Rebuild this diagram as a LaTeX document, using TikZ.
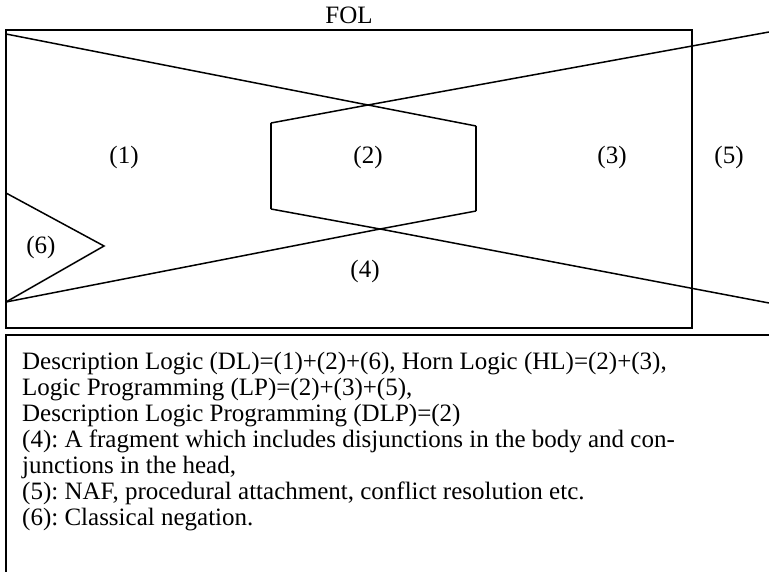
\documentclass[tikz,border=0pt]{standalone}
\usepackage{fontspec}
\setmainfont{Liberation Serif}
\frenchspacing
\begin{document}
\begin{tikzpicture}[x=1pt, y=-1pt]
\tikzset{
  region/.style={font=\fontsize{25}{26}\selectfont, inner sep=0pt},
  frame/.style={black, line width=2pt},
  edge/.style={black, line width=1.5pt}
}
\useasboundingbox (0,0) rectangle (769,572);
\clip (0,0) rectangle (769,572);

% corners of the two crossing bands
\coordinate (tl) at (6,34);
\coordinate (bl) at (6,302);
\coordinate (ru) at (769,32);
\coordinate (rl) at (769,303);
% hexagon
\coordinate (ht) at (368,105);
\coordinate (hl) at (271,123);
\coordinate (hr) at (476,126);
\coordinate (hbr) at (476,211);
\coordinate (hb) at (380,229);
\coordinate (hbl) at (271,209);
% triangle
\coordinate (nt) at (6,193);
\coordinate (np) at (104,246);

\node[region] (fol) at (349,15) {FOL};
\draw[frame] (6,30) rectangle (692,328);

\draw[edge] (tl) -- (ht) -- (hr);
\draw[edge] (hl) -- (ht) -- (ru);
\draw[edge] (bl) -- (hb) -- (hbr);
\draw[edge] (hbl) -- (hb) -- (rl);
\draw[edge] (hl) -- (hbl);
\draw[edge] (hr) -- (hbr);
\draw[edge] (nt) -- (np) -- (bl);

\node[region] (r1) at (124,157) {(1)};
\node[region] (r2) at (368,157) {(2)};
\node[region] (r3) at (612,157) {(3)};
\node[region] (r4) at (365,271) {(4)};
\node[region] (r5) at (729,157) {(5)};
\node[region] (r6) at (41,247) {(6)};

\draw[frame] (6,335) rectangle (790,590);
\node[region, anchor=north west, align=left] (notes) at (22,352) {%
Description Logic (DL)=(1)+(2)+(6), Horn Logic (HL)=(2)+(3),\\
Logic Programming (LP)=(2)+(3)+(5),\\
Description Logic Programming (DLP)=(2)\\
(4): A fragment which includes disjunctions in the body and con-\\
junctions in the head,\\
(5): NAF, procedural attachment, conflict resolution etc.\\
(6): Classical negation.};
\end{tikzpicture}
\end{document}
